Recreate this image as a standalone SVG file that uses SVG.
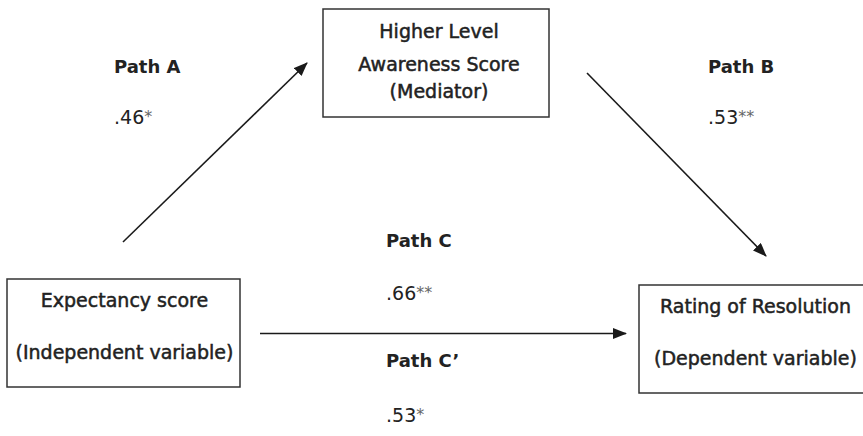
<svg xmlns="http://www.w3.org/2000/svg" width="863" height="436" viewBox="0 0 863 436">
<style>
.box{fill:#fff;stroke:#333;stroke-width:1.5}
.t{font-family:"DejaVu Sans",Verdana,sans-serif;font-size:19px;fill:#222}
.m{text-anchor:middle}
.h{stroke:#222;stroke-width:0.5}
.b{font-family:"DejaVu Sans",Verdana,sans-serif;font-size:18px;font-weight:bold;fill:#222}
.ast{fill:#666;font-size:16px}
.ln{stroke:#1a1a1a;stroke-width:1.6;fill:none;marker-end:url(#ah)}
</style>
<defs>
<marker id="ah" viewBox="0 0 14 11" refX="13" refY="5.5" markerWidth="14" markerHeight="11" markerUnits="userSpaceOnUse" orient="auto">
<path d="M0,0 L14,5.5 L0,11 Z" fill="#1a1a1a"/>
</marker>
</defs>
<rect width="863" height="436" fill="#fff"/>
<g id="connectors">
<line class="ln" x1="123" y1="242" x2="307" y2="63"/>
<line class="ln" x1="587" y1="73" x2="766" y2="256"/>
<line class="ln" x1="260" y1="333.5" x2="626" y2="333.5"/>
</g>
<g id="mediator">
<rect class="box" x="323" y="9" width="226" height="108"/>
<text class="t m h" x="439" y="38">Higher Level</text>
<text class="t m h" x="439" y="71">Awareness Score</text>
<text class="t m h" x="439" y="98">(Mediator)</text>
</g>
<g id="independent">
<rect class="box" x="7" y="279" width="233" height="108"/>
<text class="t m h" x="124.5" y="307">Expectancy score</text>
<text class="t m h" x="124.5" y="359">(Independent variable)</text>
</g>
<g id="dependent">
<rect class="box" x="639" y="285" width="230" height="108"/>
<text class="t m h" x="755.5" y="313">Rating of Resolution</text>
<text class="t m h" x="755.5" y="365">(Dependent variable)</text>
</g>
<g id="labels">
<text class="b" x="114" y="73">Path A</text>
<text class="t" x="114" y="124">.46<tspan class="ast" dy="-2">*</tspan></text>
<text class="b" x="708" y="73">Path B</text>
<text class="t" x="708" y="124">.53<tspan class="ast" dy="-2">**</tspan></text>
<text class="b" x="386" y="247">Path C</text>
<text class="t" x="386" y="300">.66<tspan class="ast" dy="-2">**</tspan></text>
<text class="b" x="386" y="367">Path C’</text>
<text class="t" x="386" y="422">.53<tspan class="ast" dy="-2">*</tspan></text>
</g>
</svg>
